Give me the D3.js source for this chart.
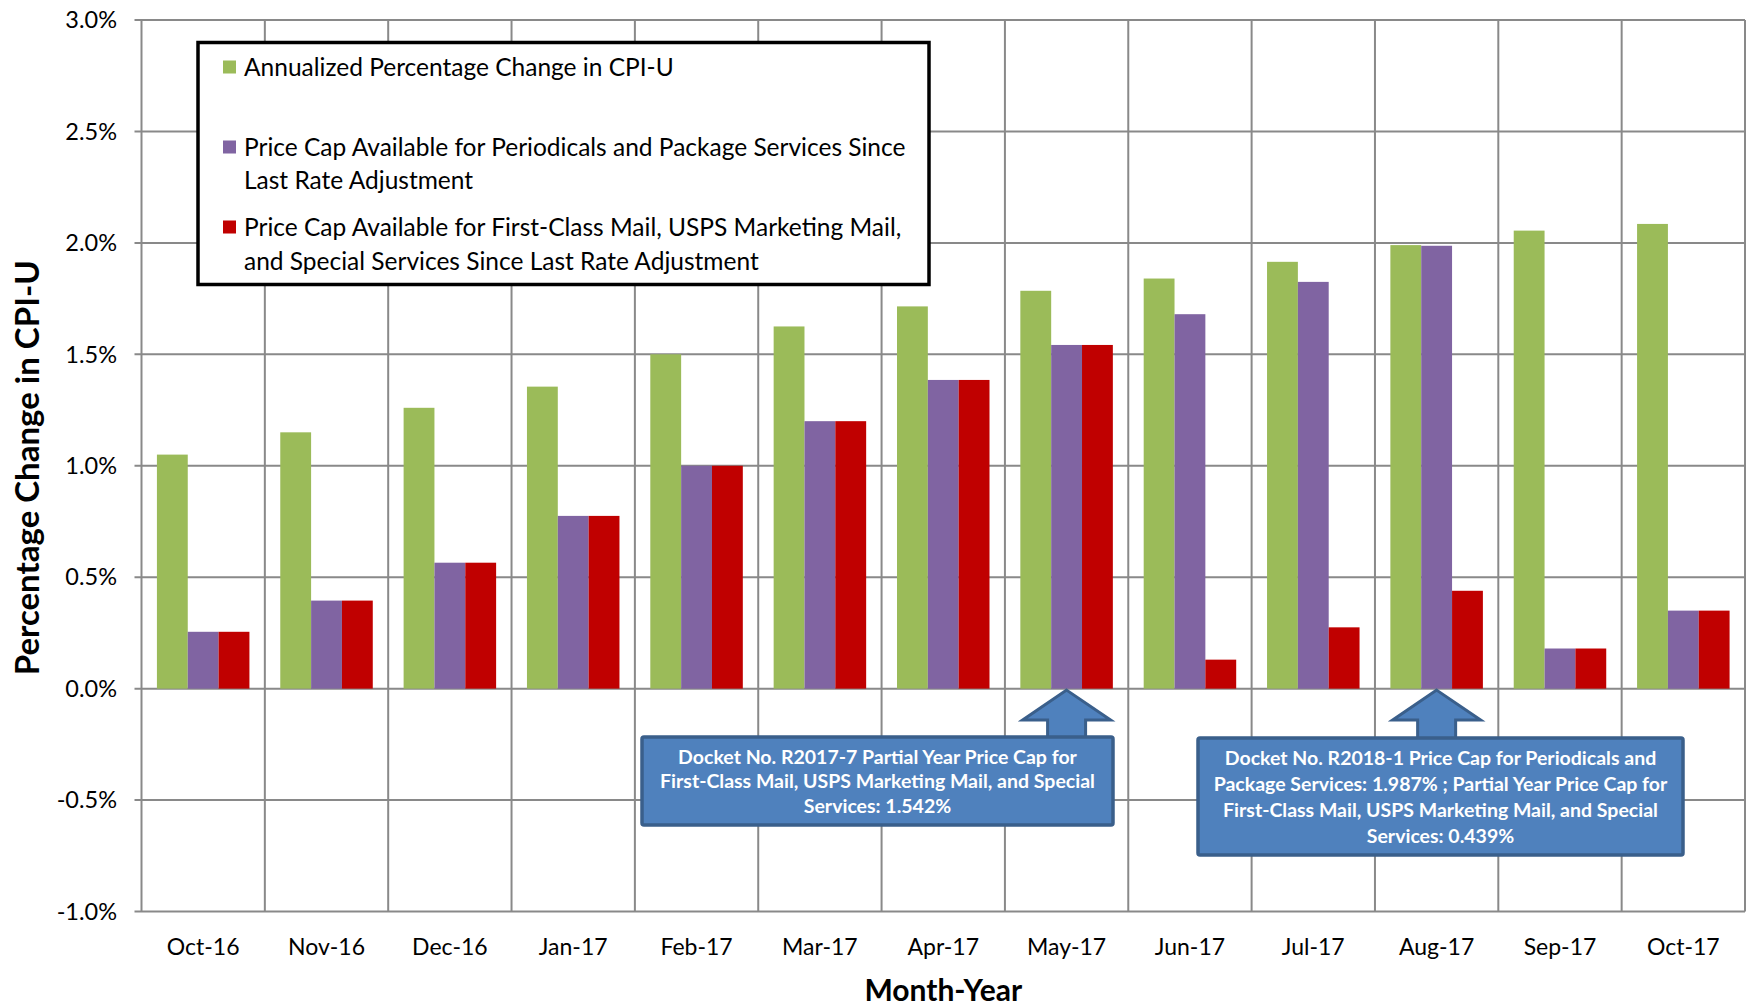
<!DOCTYPE html>
<html><head><meta charset="utf-8">
<script src="https://cdn.jsdelivr.net/npm/d3@7"></script>
<style>
html,body{margin:0;padding:0;background:#fff;}
svg{display:block;}
text{font-family:Lato, "Open Sans", sans-serif;}
</style></head>
<body>
<svg id="chart" width="1747" height="1005"></svg>
<script>
const categories = ["Oct-16","Nov-16","Dec-16","Jan-17","Feb-17","Mar-17","Apr-17","May-17","Jun-17","Jul-17","Aug-17","Sep-17","Oct-17"];
const cpiU = [1.05,1.15,1.26,1.355,1.50,1.625,1.715,1.785,1.84,1.915,1.99,2.055,2.085];
const periodicalsCap = [0.255,0.395,0.565,0.775,1.00,1.20,1.385,1.542,1.68,1.825,1.987,0.18,0.35];
const firstClassCap = [0.255,0.395,0.565,0.775,1.00,1.20,1.385,1.542,0.13,0.275,0.439,0.18,0.35];
const seriesNames = ["Annualized Percentage Change in CPI-U",
  "Price Cap Available for Periodicals and Package Services Since|Last Rate Adjustment",
  "Price Cap Available for First-Class Mail, USPS Marketing Mail,|and Special Services Since Last Rate Adjustment"];
const seriesColors = ["#9bbb59","#8064a2","#c00000"];
const yTicks = [-1.0,-0.5,0.0,0.5,1.0,1.5,2.0,2.5,3.0];
const callout1 = ["Docket No. R2017-7 Partial Year Price Cap for","First-Class Mail, USPS Marketing Mail, and Special","Services: 1.542%"];
const callout2 = ["Docket No. R2018-1 Price Cap for Periodicals and","Package Services: 1.987% ; Partial Year Price Cap for","First-Class Mail, USPS Marketing Mail, and Special","Services: 0.439%"];

const svg = d3.select("#chart");
const L = 141.5, R = 1745, T = 20, B = 911.5;
const gridColor = "#898989";

const x = d3.scaleBand().domain(categories).range([L, R]).padding(0);
const seriesKeys = [0,1,2];
const xs = d3.scaleBand().domain(seriesKeys).range([0.125*x.bandwidth(), 0.875*x.bandwidth()]).padding(0);
const y = d3.scaleLinear().domain([-1, 3]).range([B, T]);

// horizontal gridlines
svg.append("g").selectAll("line").data(yTicks).join("line")
  .attr("x1", L - 7).attr("x2", R)
  .attr("y1", d => y(d)).attr("y2", d => y(d))
  .attr("stroke", gridColor).attr("stroke-width", 2);
// vertical gridlines
const bounds = categories.map(c => x(c)).concat([R]);
svg.append("g").selectAll("line").data(bounds).join("line")
  .attr("x1", d => d).attr("x2", d => d)
  .attr("y1", T).attr("y2", B)
  .attr("stroke", gridColor).attr("stroke-width", 2);

// y tick labels
svg.append("g").selectAll("text").data(yTicks).join("text")
  .attr("x", 117).attr("y", d => y(d)).attr("dy", "0.35em")
  .attr("text-anchor", "end").attr("font-size", 23.5).attr("fill", "#000")
  .text(d => (d < 0 ? "-" : "") + Math.abs(d).toFixed(1) + "%");

// x tick labels
svg.append("g").selectAll("text").data(categories).join("text")
  .attr("x", d => x(d) + x.bandwidth()/2).attr("y", 947).attr("dy", "0.35em")
  .attr("text-anchor", "middle").attr("font-size", 23).attr("fill", "#000")
  .text(d => d);

// bars
const allSeries = [cpiU, periodicalsCap, firstClassCap];
allSeries.forEach((vals, si) => {
  svg.append("g").selectAll("rect").data(vals).join("rect")
    .attr("x", (d, i) => x(categories[i]) + xs(si))
    .attr("width", xs.bandwidth())
    .attr("y", d => y(Math.max(0, d)))
    .attr("height", d => Math.abs(y(d) - y(0)))
    .attr("fill", seriesColors[si]);
});

// axis titles
svg.append("text").attr("x", (L + R)/2).attr("y", 990).attr("dy", "0.35em")
  .attr("text-anchor", "middle").attr("font-size", 30).attr("font-weight", "bold")
  .text("Month-Year");
svg.append("text").attr("transform", `translate(27,${(T+B)/2 + 2}) rotate(-90)`).attr("dy", "0.35em")
  .attr("text-anchor", "middle").attr("font-size", 33).attr("font-weight", "bold")
  .text("Percentage Change in CPI-U");

// legend
const lg = svg.append("g");
lg.append("rect").attr("x", 198).attr("y", 42.5).attr("width", 731).attr("height", 242)
  .attr("fill", "#fff").attr("stroke", "#000").attr("stroke-width", 3.5);
const legendY = [[67],[147,180],[227,261]];
seriesNames.forEach((name, i) => {
  lg.append("rect").attr("x", 223).attr("y", legendY[i][0] - 6.5).attr("width", 13).attr("height", 13)
    .attr("fill", seriesColors[i]);
  name.split("|").forEach((line, j) => {
    lg.append("text").attr("x", 244).attr("y", legendY[i][j]).attr("dy", "0.35em")
      .attr("font-size", 24.5).text(line);
  });
});

// callouts
function callout(cat, box, lines, lineY) {
  const g = svg.append("g");
  const cx = x(cat) + x.bandwidth()/2;
  const tipY = y(0) + 1.5, headY = 720, hw = 44, sw = 19;
  const p = d3.path();
  p.moveTo(cx, tipY); p.lineTo(cx + hw, headY); p.lineTo(cx + sw, headY);
  p.lineTo(cx + sw, box.y + 4); p.lineTo(cx - sw, box.y + 4); p.lineTo(cx - sw, headY);
  p.lineTo(cx - hw, headY); p.closePath();
  g.append("path").attr("d", p.toString()).attr("fill", "#4f81bd").attr("stroke", "#3a5f8b").attr("stroke-width", 3).attr("stroke-linejoin", "miter");
  g.append("rect").attr("x", box.x).attr("y", box.y).attr("width", box.w).attr("height", box.h)
    .attr("rx", 2).attr("fill", "#4f81bd").attr("stroke", "#3a5f8b").attr("stroke-width", 3.5);
  lines.forEach((t, j) => {
    g.append("text").attr("x", box.x + box.w/2).attr("y", lineY[j]).attr("dy", "0.35em")
      .attr("text-anchor", "middle").attr("font-size", 19.5).attr("font-weight", "bold")
      .attr("fill", "#fff").text(t);
  });
}
callout("May-17", {x: 642, y: 737, w: 471, h: 88}, callout1, [757, 781, 806]);
callout("Aug-17", {x: 1198, y: 738, w: 485, h: 117}, callout2, [758, 784, 810, 836]);
</script>
</body></html>
